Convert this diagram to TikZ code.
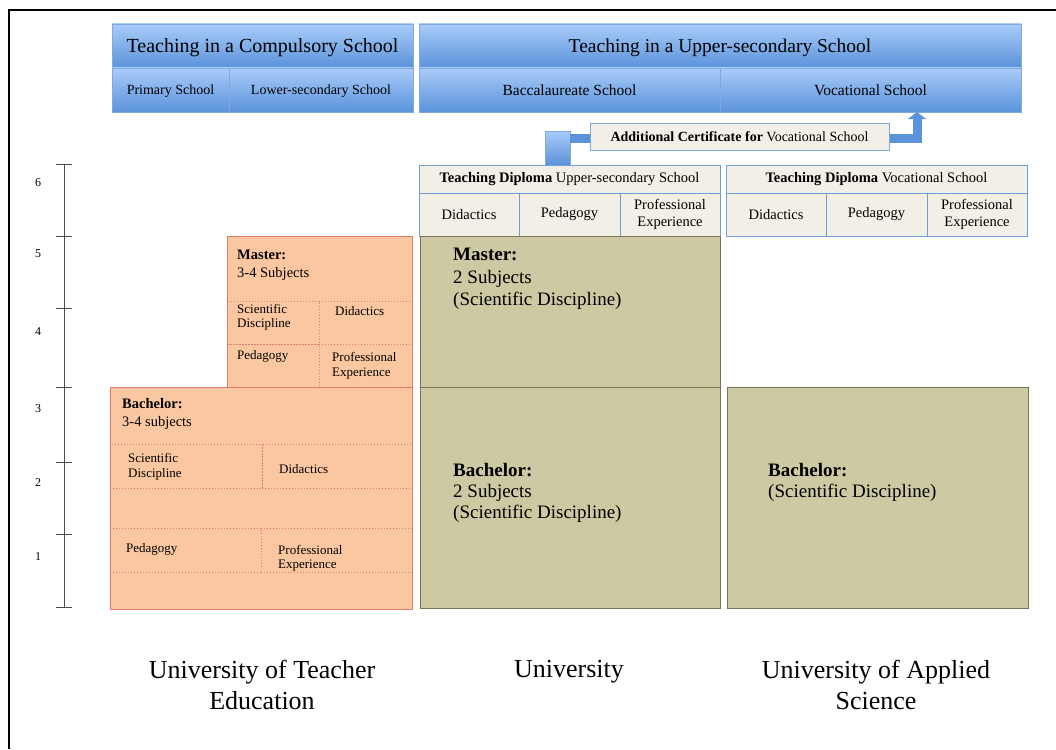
\documentclass[tikz,border=0pt]{standalone}
\usepackage{fontspec}
\setmainfont{Liberation Serif}
\usetikzlibrary{arrows.meta}

\definecolor{hdrtop}{HTML}{A9CCF9}
\definecolor{hdrbot}{HTML}{5A92DA}
\definecolor{hdrline}{HTML}{80AADD}
\definecolor{cream}{HTML}{F2EFE6}
\definecolor{tdline}{HTML}{6F9FD6}
\definecolor{peach}{HTML}{FAC7A0}
\definecolor{peachline}{HTML}{E07B72}
\definecolor{olive}{HTML}{CDC9A3}
\definecolor{oliveline}{HTML}{77745A}
\definecolor{arrowblue}{HTML}{5A93DB}

\newcommand{\setfs}[2]{\fontsize{#1pt}{#2pt}\selectfont}

\begin{document}
\begin{tikzpicture}[
  x=1pt, y=-1pt,
  cell/.style={anchor=north west, inner sep=0pt, outer sep=0pt},
  hdr/.style={cell, draw=hdrline, line width=0.8pt, top color=hdrtop, bottom color=hdrbot, align=center, text depth=0pt},
  tdbox/.style={cell, draw=tdline, fill=cream, line width=1pt, align=center, font=\setfs{14.5}{17}},
  peachbox/.style={cell, draw=peachline, fill=peach, line width=1pt},
  olivebox/.style={cell, draw=oliveline, fill=olive, line width=1pt},
  subcell/.style={cell, draw=peachline, dotted, line width=1pt},
  lbl/.style={anchor=north west, inner sep=0pt, align=left},
  inst/.style={anchor=north, inner sep=0pt, align=center, font=\setfs{26}{31}},
  conn/.style={draw=arrowblue, line width=9pt, line join=miter},
  tick/.style={line width=0.9pt, black!70},
]
\useasboundingbox (0,0) rectangle (1056,749);

% outer frame (top and left edges)
\draw[line width=1.5pt] (9,749) -- (9,10) -- (1056,10);

% ---------- school types ----------
\node[hdr, minimum width=301pt, minimum height=44pt, font=\setfs{20}{24}] (hdrL) at (112,24) {Teaching in a Compulsory School};
\node[hdr, minimum width=117pt, minimum height=44pt, font=\setfs{14}{17}] (prim) at (112,68) {Primary School};
\node[hdr, minimum width=184pt, minimum height=44pt, font=\setfs{14}{17}] (lowsec) at (229,68) {Lower-secondary School};

\node[hdr, minimum width=602pt, minimum height=44pt, font=\setfs{19.5}{24}] (hdrR) at (419,24) {Teaching in a Upper-secondary School};
\node[hdr, minimum width=301pt, minimum height=44pt, font=\setfs{15.5}{18}] (bacc) at (419,68) {Baccalaureate School};
\node[hdr, minimum width=301pt, minimum height=44pt, font=\setfs{15.5}{18}] (voc) at (720,68) {Vocational School};

% ---------- certificate connector ----------
\coordinate (bend) at (917,138);
\node[hdr, minimum width=25pt, minimum height=34pt] (blk) at (545,131) {};
\draw[conn, -{Triangle[width=18pt,length=7pt]}] (blk.north east |- bend) -- (bend) -- (bend |- voc.south);
\node[cell, draw=hdrline, fill=cream, line width=1pt, minimum width=299pt, minimum height=27pt, font=\setfs{14}{17}] (cert) at (590,123)
  {\textbf{Additional Certificate for} Vocational School};

% ---------- teaching diplomas ----------
\node[tdbox, minimum width=301pt, minimum height=28pt] (tdU) at (419,165) {\textbf{Teaching Diploma} Upper-secondary School};
\node[tdbox, minimum width=100pt, minimum height=43pt] (tdUa) at (419,193) {Didactics};
\node[tdbox, minimum width=101pt, minimum height=43pt] (tdUb) at (519,193) {Pedagogy};
\node[tdbox, minimum width=100pt, minimum height=43pt] (tdUc) at (620,193) {Professional\\Experience};

\node[tdbox, minimum width=301pt, minimum height=28pt] (tdV) at (726,165) {\textbf{Teaching Diploma} Vocational School};
\node[tdbox, minimum width=100pt, minimum height=43pt] (tdVa) at (726,193) {Didactics};
\node[tdbox, minimum width=101pt, minimum height=43pt] (tdVb) at (826,193) {Pedagogy};
\node[tdbox, minimum width=100pt, minimum height=43pt] (tdVc) at (927,193) {Professional\\Experience};

% ---------- university ----------
\node[olivebox, minimum width=300pt, minimum height=151pt] (uniM) at (420,236) {};
\node[olivebox, minimum width=300pt, minimum height=221pt] (uniB) at (420,387) {};
\node[olivebox, minimum width=301pt, minimum height=221pt] (uasB) at (727,387) {};

\node[lbl, font=\setfs{19}{22.5}] (uniMt) at (453,248) {\textbf{Master:}\\2 Subjects\\(Scientific Discipline)};
\node[lbl, font=\setfs{19}{21}] (uniBt) at (453,463) {\textbf{Bachelor:}\\2 Subjects\\(Scientific Discipline)};
\node[lbl, font=\setfs{19}{21}] (uasBt) at (768,463) {\textbf{Bachelor:}\\(Scientific Discipline)};

% ---------- university of teacher education ----------
\node[peachbox, minimum width=185pt, minimum height=151pt] (masT) at (227,236) {};
\node[subcell, minimum width=92pt, minimum height=43pt] (masA) at (227,301) {};
\node[subcell, minimum width=93pt, minimum height=43pt] (masB) at (319,301) {};
\node[subcell, minimum width=92pt, minimum height=43pt] (masC) at (227,344) {};
\node[subcell, minimum width=93pt, minimum height=43pt] (masD) at (319,344) {};
\draw[draw=peachline, line width=1pt] (masT.south west) -- (masT.north west) -- (masT.north east) -- (masT.south east);

\node[peachbox, minimum width=302pt, minimum height=222pt] (bacT) at (110,387) {};
\node[subcell, minimum width=152pt, minimum height=44pt] (bacA) at (110,444) {};
\node[subcell, minimum width=150pt, minimum height=44pt] (bacB) at (262,444) {};
\node[subcell, minimum width=151pt, minimum height=44pt] (bacC) at (110,528) {};
\node[subcell, minimum width=151pt, minimum height=44pt] (bacD) at (261,528) {};
\draw[draw=peachline, line width=1pt] (bacT.north west) rectangle (bacT.south east);

\node[lbl, font=\setfs{14.5}{18}] (masTt) at (237,250) {\textbf{Master:}\\3-4 Subjects};
\node[lbl, font=\setfs{13}{14.5}] (masAt) at (237,304) {Scientific\\Discipline};
\node[lbl, font=\setfs{13}{14.5}] (masBt) at (335,306) {Didactics};
\node[lbl, font=\setfs{13}{14.5}] (masCt) at (237,350) {Pedagogy};
\node[lbl, font=\setfs{13}{15}] (masDt) at (332,352) {Professional\\Experience};

\node[lbl, font=\setfs{14.5}{18}] (bacTt) at (122,398) {\textbf{Bachelor:}\\3-4 subjects};
\node[lbl, font=\setfs{13}{15}] (bacAt) at (128,453) {Scientific\\Discipline};
\node[lbl, font=\setfs{13}{15}] (bacBt) at (279,464) {Didactics};
\node[lbl, font=\setfs{13}{15}] (bacCt) at (126,543) {Pedagogy};
\node[lbl, font=\setfs{13}{14.5}] (bacDt) at (278,545) {Professional\\Experience};

% ---------- year scale ----------
\draw[tick] (64,164) -- (64,607);
\foreach \ty in {164,236,308,387,462,534,607}
  \draw[tick] (56,\ty) -- (72,\ty);
\foreach \yr/\ly in {6/183,5/254,4/332,3/409,2/483,1/557}
  \node[font=\setfs{12}{14}, inner sep=0pt] (yr\yr) at (38,\ly) {\yr};

% ---------- institutions ----------
\node[inst] (instA) at (262,660) {University of Teacher\\Education};
\node[inst] (instB) at (569,660) {University};
\node[inst] (instC) at (876,660) {University of Applied\\Science};
\end{tikzpicture}
\end{document}
